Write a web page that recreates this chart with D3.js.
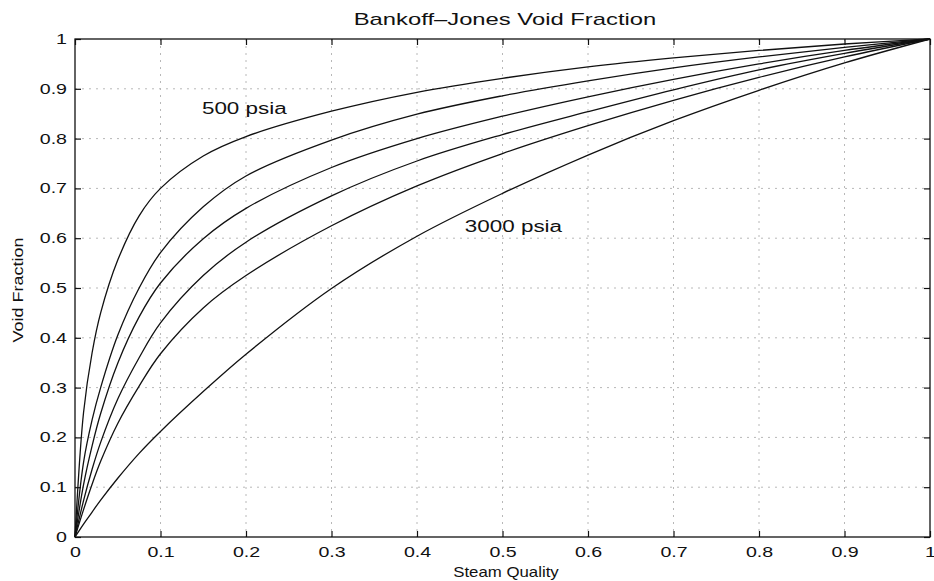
<!DOCTYPE html>
<html>
<head>
<meta charset="utf-8">
<script src="https://cdn.jsdelivr.net/npm/d3@7"></script>
<style>
  html, body { margin: 0; padding: 0; background: #fff; }
  svg { display: block; }
  text { font-family: "Liberation Sans", Arial, Helvetica, sans-serif; fill: #111; }
</style>
</head>
<body>
<svg id="chart" width="934" height="581"></svg>
<script>
// Steam quality (x) shared by every pressure curve
const quality = [0, 0.01, 0.02, 0.03, 0.05, 0.075, 0.1, 0.15, 0.2, 0.3, 0.4, 0.5, 0.6, 0.7, 0.8, 0.9, 1];

// Void fraction at each quality, one array per system pressure
const void500  = [0, 0.250, 0.370, 0.450, 0.556, 0.645, 0.700, 0.765, 0.804, 0.855, 0.893, 0.921, 0.944, 0.962, 0.977, 0.990, 1];
const void1000 = [0, 0.150, 0.235, 0.300, 0.405, 0.500, 0.571, 0.663, 0.725, 0.797, 0.849, 0.886, 0.916, 0.942, 0.964, 0.983, 1];
const void1500 = [0, 0.105, 0.183, 0.248, 0.349, 0.442, 0.510, 0.599, 0.660, 0.742, 0.800, 0.845, 0.884, 0.919, 0.950, 0.977, 1];
const void2000 = [0, 0.073, 0.136, 0.190, 0.277, 0.360, 0.430, 0.525, 0.592, 0.685, 0.755, 0.808, 0.854, 0.898, 0.938, 0.971, 1];
const void2500 = [0, 0.055, 0.106, 0.152, 0.228, 0.303, 0.368, 0.460, 0.525, 0.625, 0.705, 0.770, 0.826, 0.877, 0.923, 0.964, 1];
const void3000 = [0, 0.026, 0.050, 0.074, 0.118, 0.168, 0.212, 0.292, 0.367, 0.499, 0.604, 0.690, 0.767, 0.836, 0.897, 0.952, 1];

const pressures = [500, 1000, 1500, 2000, 2500, 3000];
const curves = [void500, void1000, void1500, void2000, void2500, void3000];

// Axis ticks and their printed labels
const tickValues = [0, 0.1, 0.2, 0.3, 0.4, 0.5, 0.6, 0.7, 0.8, 0.9, 1];
const tickLabels = ["0", "0.1", "0.2", "0.3", "0.4", "0.5", "0.6", "0.7", "0.8", "0.9", "1"];

const title = "Bankoff\u2013Jones Void Fraction";
const xTitle = "Steam Quality";
const yTitle = "Void Fraction";

const svg = d3.select("#chart");
const plotL = 75, plotR = 930, plotT = 39, plotB = 537;

const x = d3.scaleLinear().domain([0, 1]).range([plotL, plotR]);
const y = d3.scaleLinear().domain([0, 1]).range([plotB, plotT]);

// Widen glyphs along the baseline (the typeface is set wide in this figure)
function widen(sel, factor = 1.4) {
  sel.each(function () {
    const len = this.getComputedTextLength();
    d3.select(this).attr("textLength", len * factor).attr("lengthAdjust", "spacingAndGlyphs");
  });
}

// Dotted grid
const inner = tickValues.filter(v => v > 0 && v < 1);
const grid = svg.append("g").attr("stroke", "#b8b8b8").attr("stroke-width", 1)
  .attr("stroke-dasharray", "2,5").attr("fill", "none");
grid.selectAll("line.gx").data(inner).join("line").attr("class", "gx")
  .attr("x1", d => x(d)).attr("x2", d => x(d)).attr("y1", plotT).attr("y2", plotB);
grid.selectAll("line.gy").data(inner).join("line").attr("class", "gy")
  .attr("y1", d => y(d)).attr("y2", d => y(d)).attr("x1", plotL).attr("x2", plotR);

// Axes with inward ticks on all four sides
const fmt = d => tickLabels[tickValues.indexOf(d)];
const tick = -6;

const gB = svg.append("g").attr("transform", `translate(0,${plotB})`)
  .call(d3.axisBottom(x).tickValues(tickValues).tickFormat(fmt).tickSizeInner(tick).tickSizeOuter(0).tickPadding(10));
const gL = svg.append("g").attr("transform", `translate(${plotL},0)`)
  .call(d3.axisLeft(y).tickValues(tickValues).tickFormat(fmt).tickSizeInner(tick).tickSizeOuter(0).tickPadding(8));
const gT = svg.append("g").attr("transform", `translate(0,${plotT})`)
  .call(d3.axisTop(x).tickValues(tickValues).tickFormat("").tickSizeInner(tick).tickSizeOuter(0));
const gR = svg.append("g").attr("transform", `translate(${plotR},0)`)
  .call(d3.axisRight(y).tickValues(tickValues).tickFormat("").tickSizeInner(tick).tickSizeOuter(0));

[gB, gL, gT, gR].forEach(g => {
  g.select(".domain").remove();
  g.selectAll(".tick line").attr("stroke", "#111").attr("stroke-width", 1.2);
  g.selectAll(".tick text").attr("font-size", 14).attr("fill", "#111");
});
gB.selectAll(".tick text").call(widen);
gL.selectAll(".tick text").call(widen);

// Plot frame
svg.append("rect").attr("x", plotL).attr("y", plotT)
  .attr("width", plotR - plotL).attr("height", plotB - plotT)
  .attr("fill", "none").attr("stroke", "#111").attr("stroke-width", 1.3);

// Void fraction curves
const line = d3.line().x(d => x(d[0])).y(d => y(d[1])).curve(d3.curveCatmullRom.alpha(0.5));
svg.append("g").attr("fill", "none").attr("stroke", "#111").attr("stroke-width", 1.3)
  .selectAll("path").data(curves).join("path")
  .attr("d", vals => line(quality.map((q, i) => [q, vals[i]])));

// Pressure annotations for the outermost curves
svg.append("text").attr("x", x(0.1485)).attr("y", y(0.849)).attr("font-size", 16)
  .text(`${pressures[0]} psia`).call(widen);
svg.append("text").attr("x", x(0.456)).attr("y", y(0.613)).attr("font-size", 16)
  .text(`${pressures[5]} psia`).call(widen);

// Titles
svg.append("text").attr("x", 505).attr("y", 25).attr("text-anchor", "middle")
  .attr("font-size", 17).text(title).call(widen);
svg.append("text").attr("x", 506).attr("y", 577).attr("text-anchor", "middle")
  .attr("font-size", 15).text(xTitle).call(widen, 1.12);
svg.append("text").attr("transform", "translate(23,290) rotate(-90)").attr("text-anchor", "middle")
  .attr("font-size", 15).text(yTitle).call(widen, 1.2);
</script>
</body>
</html>
